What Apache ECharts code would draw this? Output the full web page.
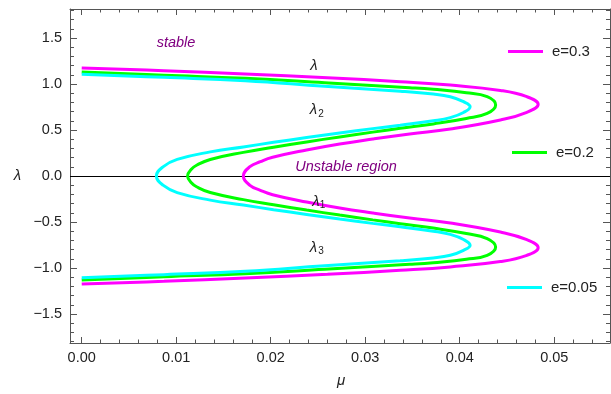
<!DOCTYPE html>
<html><head><meta charset="utf-8">
<script src="https://cdn.jsdelivr.net/npm/echarts@6/dist/echarts.min.js"></script>
<style>html,body{margin:0;padding:0;background:#fff}#c{width:611px;height:394px}</style>
</head><body><div id="c"></div>
<script>
// ---- data ----
const seriesNames = ['e=0.3', 'e=0.2', 'e=0.05'];
const seriesColors = ['#ff00ff', '#00ff00', '#00ffff'];

const muE03  = [0, 0.0087, 0.0173, 0.0260, 0.0337, 0.0390, 0.0443, 0.0471, 0.0483, 0.0471, 0.0443, 0.0390, 0.0347, 0.0308, 0.0273, 0.0238, 0.0202, 0.0189, 0.0178, 0.0171,
                0.0178, 0.0189, 0.0202, 0.0238, 0.0273, 0.0308, 0.0347, 0.0390, 0.0443, 0.0471, 0.0483, 0.0471, 0.0443, 0.0390, 0.0337, 0.0260, 0.0173, 0.0087, 0];
const lamE03 = [1.175, 1.145, 1.109, 1.068, 1.025, 0.988, 0.930, 0.862, 0.779, 0.692, 0.609, 0.511, 0.457, 0.402, 0.348, 0.283, 0.203, 0.155, 0.101, 0,
                -0.101, -0.155, -0.203, -0.283, -0.348, -0.402, -0.457, -0.511, -0.609, -0.692, -0.779, -0.862, -0.930, -0.988, -1.025, -1.068, -1.109, -1.145, -1.175];

const muE02  = [0, 0.0087, 0.0173, 0.0257, 0.0347, 0.0372, 0.0407, 0.0429, 0.0438, 0.0429, 0.0407, 0.0372, 0.0337, 0.0308, 0.0273, 0.0238, 0.0203, 0.0171, 0.0136, 0.0122, 0.0116, 0.0112,
                0.0116, 0.0122, 0.0136, 0.0171, 0.0203, 0.0238, 0.0273, 0.0308, 0.0337, 0.0372, 0.0407, 0.0429, 0.0438, 0.0429, 0.0407, 0.0372, 0.0347, 0.0257, 0.0173, 0.0087, 0];
const lamE02 = [1.130, 1.095, 1.062, 1.014, 0.960, 0.942, 0.905, 0.862, 0.772, 0.680, 0.625, 0.566, 0.518, 0.477, 0.425, 0.370, 0.312, 0.257, 0.180, 0.120, 0.073, 0,
                -0.073, -0.120, -0.180, -0.257, -0.312, -0.370, -0.425, -0.477, -0.518, -0.566, -0.625, -0.680, -0.772, -0.862, -0.905, -0.942, -0.960, -1.014, -1.062, -1.095, -1.130];

const muE005  = [0, 0.0087, 0.0173, 0.0257, 0.0337, 0.0372, 0.0390, 0.0404, 0.0411, 0.0404, 0.0390, 0.0372, 0.0337, 0.0308, 0.0273, 0.0238, 0.0203, 0.0171, 0.0136, 0.0101, 0.0086, 0.0079,
                 0.0086, 0.0101, 0.0136, 0.0171, 0.0203, 0.0238, 0.0273, 0.0308, 0.0337, 0.0372, 0.0390, 0.0404, 0.0411, 0.0404, 0.0390, 0.0372, 0.0337, 0.0257, 0.0173, 0.0087, 0];
const lamE005 = [1.105, 1.072, 1.036, 0.975, 0.922, 0.891, 0.862, 0.808, 0.753, 0.690, 0.635, 0.600, 0.552, 0.515, 0.468, 0.418, 0.366, 0.316, 0.262, 0.180, 0.100, 0,
                 -0.100, -0.180, -0.262, -0.316, -0.366, -0.418, -0.468, -0.515, -0.552, -0.600, -0.635, -0.690, -0.753, -0.808, -0.862, -0.891, -0.922, -0.975, -1.036, -1.072, -1.105];

const xTickValues = [0, 0.01, 0.02, 0.03, 0.04, 0.05];
const yTickValues = [-1.5, -1.0, -0.5, 0, 0.5, 1.0, 1.5];

// ---- layout ----
const X_MIN = -0.00124, X_MAX = 0.0559, Y_MIN = -1.815, Y_MAX = 1.815;
const xMinor = []; for (let i = 1; i <= 27; i++) { if (i % 5) xMinor.push(+(i * 0.002).toFixed(3)); }
const yMinor = []; for (let i = -18; i <= 18; i++) { if (i % 5) yMinor.push(+(i * 0.1).toFixed(1)); }

const FRAME = '#555';
const FONT = '"Liberation Sans", Arial, sans-serif';
const minus = s => s.replace('-', '\u2212');

function xAxisDef(pos, ticks, len, labels, line) {
  return {
    type: 'value', position: pos, min: X_MIN, max: X_MAX,
    axisLine: { show: line, onZero: false, lineStyle: { color: FRAME, width: 1 } },
    axisTick: { show: true, inside: true, length: len, customValues: ticks, lineStyle: { color: FRAME, width: 1 } },
    axisLabel: { show: labels, customValues: ticks, margin: 7, color: '#222', fontSize: 14.5, fontFamily: FONT,
                 formatter: v => minus(v.toFixed(2)) },
    splitLine: { show: false }
  };
}
function yAxisDef(pos, ticks, len, labels, line) {
  return {
    type: 'value', position: pos, min: Y_MIN, max: Y_MAX,
    axisLine: { show: line, onZero: false, lineStyle: { color: FRAME, width: 1 } },
    axisTick: { show: true, inside: true, length: len, customValues: ticks, lineStyle: { color: FRAME, width: 1 } },
    axisLabel: { show: labels, customValues: ticks, margin: 8, color: '#222', fontSize: 14.5, fontFamily: FONT,
                 formatter: v => minus(v.toFixed(1)) },
    splitLine: { show: false }
  };
}

const curves = [[muE03, lamE03], [muE02, lamE02], [muE005, lamE005]];
const series = curves.map((c, i) => ({
  name: seriesNames[i], type: 'line', xAxisIndex: 0, yAxisIndex: 0,
  data: c[0].map((m, k) => [m, c[1][k]]),
  smooth: 0.45, showSymbol: false, symbol: 'none', silent: true,
  lineStyle: { color: seriesColors[i], width: 3 }, itemStyle: { color: seriesColors[i] },
  z: 3,
  markLine: i === 0 ? { silent: true, symbol: 'none', label: { show: false },
    lineStyle: { color: '#000', width: 1, type: 'solid' }, data: [{ yAxis: 0 }], z: 2 } : undefined
}));

const legendPos = [[508, 44], [512, 145], [507, 280]];
const legends = seriesNames.map((n, i) => ({
  data: [n], left: legendPos[i][0], top: legendPos[i][1], padding: 0, icon: 'rect',
  itemWidth: 35, itemHeight: 3, selectedMode: false,
  textStyle: { fontSize: 15, color: '#222', fontFamily: FONT, padding: [0, 0, 0, 4] }
}));

function txt(x, y, text, size, color, italic) {
  return { type: 'text', x: x, y: y, silent: true, z: 10,
    style: { text: text, fill: color, font: (italic ? 'italic ' : '') + size + 'px ' + FONT,
             textAlign: 'center', textVerticalAlign: 'middle', align: 'center', verticalAlign: 'middle' } };
}
const PURPLE = '#800080';
const graphics = [
  txt(176, 43, 'stable', 14.5, PURPLE, true),
  txt(346, 167, 'Unstable region', 14.5, PURPLE, true),
  txt(314, 66, 'λ', 15, '#222', true),
  txt(313.5, 110, 'λ', 15, '#222', true), txt(321, 114.5, '2', 10, '#222', false),
  txt(316, 201.5, 'λ', 15, '#222', true), txt(322.5, 205.5, '1', 10, '#222', false),
  txt(313.5, 247.5, 'λ', 15, '#222', true), txt(321, 251.5, '3', 10, '#222', false),
  txt(17.5, 176, 'λ', 15, '#222', true),
  txt(341, 381, 'μ', 15, '#222', true)
];

const chart = echarts.init(document.getElementById('c'), null, { renderer: 'canvas' });
chart.setOption({
  animation: false,
  backgroundColor: '#fff',
  grid: { left: 70, top: 9, width: 540, height: 334, containLabel: false },
  xAxis: [
    xAxisDef('bottom', xTickValues, 6, true, true),
    xAxisDef('bottom', xMinor, 3.5, false, false),
    xAxisDef('top', xTickValues, 6, false, true),
    xAxisDef('top', xMinor, 3.5, false, false)
  ],
  yAxis: [
    yAxisDef('left', yTickValues, 7, true, true),
    yAxisDef('left', yMinor, 4, false, false),
    yAxisDef('right', yTickValues, 7, false, true),
    yAxisDef('right', yMinor, 4, false, false)
  ],
  legend: legends,
  series: series,
  graphic: graphics
});
</script></body></html>
